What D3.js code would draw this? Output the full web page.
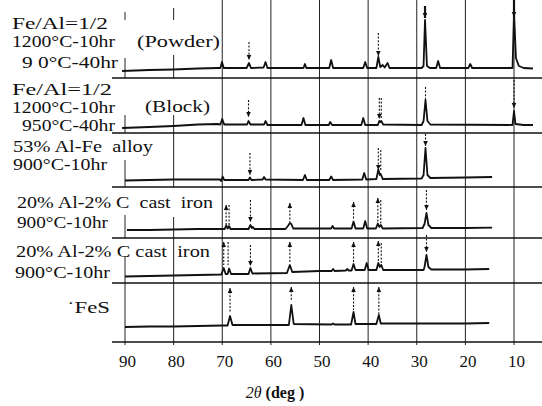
<!DOCTYPE html>
<html>
<head>
<meta charset="utf-8">
<script src="https://cdn.jsdelivr.net/npm/d3@7"></script>
<style>
  html, body { margin: 0; padding: 0; background: #fff; }
  svg { display: block; }
  text { font-family: "Liberation Serif", "Times New Roman", "DejaVu Serif", serif; fill: #111; white-space: pre; }
</style>
</head>
<body>
<svg id="chart" width="542" height="406"></svg>
<script>
// ---- data (2θ in degrees, intensity in arbitrary units above each panel's bottom rule) ----
const degTicks = [90, 80, 70, 60, 50, 40, 30, 20, 10];

const sampleLabels = [
  ["Fe/Al=1/2", "1200°C-10hr", "9 0°C-40hr"],
  ["Fe/Al=1/2", "1200°C-10hr", "950°C-40hr"],
  ["53% Al-Fe  alloy", "900°C-10hr"],
  ["20% Al-2% C  cast  iron", "900°C-10hr"],
  ["20% Al-2% C cast  iron", "900°C-10hr"],
  ["˙FeS"]
];
const formLabels = ["(Powder)", "(Block)"];

const trace1 = [[90.6,7],[85,8],[80,8.5],[75,9.5],[71,10],[70.4,10],[70.05,16],[69.7,10],[65.0,10],[64.5,15],[64.1,10],
  [61.5,10.5],[61.1,16],[60.7,10],[55,10],[53.3,10],[53.0,14],[52.7,10],[48.0,10],[47.6,18],[47.2,10],[41.0,10],[40.6,16],
  [40.2,10],[38.3,10],[37.9,21],[37.5,11],[37.0,13],[36.6,10.5],[36.0,15],[35.6,10],[29,10],[28.6,12],[28.3,58],[27.9,12],
  [27.3,10],[26.0,10],[25.6,17],[25.2,10],[19.4,10],[19.0,14],[18.6,10],[10.3,10],[10.0,66],[9.6,20],[9.0,12],[8.0,10],[6.1,9.5]];
const trace2 = [[90.6,5],[85,6],[80,7],[75,8.5],[71,9],[70.4,8.5],[70.0,14],[69.6,8.5],[64.9,8.5],[64.6,12],[64.2,8.5],
  [61.4,8.5],[61.1,12],[60.7,8],[53.7,8],[53.3,15],[52.9,8],[48.1,8],[47.8,11],[47.4,8],[41.4,8],[41.0,15],[40.6,8],
  [38.0,8],[37.7,12],[37.5,11],[37.3,12],[36.9,8.5],[29.0,8],[28.6,12],[28.2,33],[27.8,12],[27.2,8.5],[10.3,8],[10.0,22],
  [9.7,9],[8,8],[6.1,8]];
const trace3 = [[90,6.5],[85,7],[80,7.5],[75,7.5],[70.5,7.5],[70.2,6],[69.9,10.5],[69.6,7],[64.6,7],[64.3,9.5],[64.0,7],
  [61.7,7.5],[61.4,10],[61.1,7.5],[53.4,7],[53.0,12],[52.6,7],[48.0,7],[47.6,10.5],[47.2,7],[41.2,7.5],[40.8,14],[40.4,7.5],
  [38.3,8],[37.9,17.5],[37.6,12],[37.4,13],[37.0,8],[29.0,8.5],[28.6,12],[28.2,39],[27.8,12],[27.2,9],[20,9.5],[14.5,10]];
const trace4 = [[89.6,8],[85,8],[80,8.5],[75,9],[70,9],[69.5,9],[69.2,12.5],[68.9,9.5],[68.6,12],[68.3,9],[64.6,9],[64.2,13],
  [63.9,10],[63.7,11],[63.4,9],[57,9],[56.5,12],[56.1,15],[55.8,14],[55.4,9.5],[47.6,9.5],[47.3,12],[47.0,9.5],[43.4,9.5],
  [43.0,16.5],[42.6,9.5],[41.0,9.5],[40.6,17],[40.2,9.5],[38.4,9.5],[38.0,14.5],[37.7,11],[37.4,13],[37.0,9.5],[28.8,10],
  [28.4,14],[28.0,25],[27.6,13],[27.0,10],[20,10],[14.5,10.3]];
const trace5 = [[90,6.5],[85,7],[80,7.5],[75,8],[70.2,8.5],[69.7,15],[69.3,9],[68.9,9],[68.6,14.5],[68.2,9],[64.6,9],[64.2,15],
  [63.8,9.5],[56.7,10],[56.1,18],[55.6,11],[50,12],[47.5,12],[47.2,14],[46.9,12],[44.6,12.5],[44.3,14],[44.0,12.5],[43.4,12.5],
  [43.0,19],[42.6,13],[40.7,13],[40.3,20],[39.9,13],[38.3,13],[37.9,20],[37.6,16],[37.3,18],[36.9,13],[28.6,13],[28.4,16],
  [28.0,28],[27.6,16],[27.0,13.5],[20,13.5],[15.1,14]];
const trace6 = [[90,15],[85,15.5],[80,15.5],[75,16],[70,16.5],[68.9,16.5],[68.4,26],[67.9,17],[56.3,17],[55.8,37],[55.3,18],
  [47.5,17.5],[47.2,18.5],[46.9,17.5],[43.5,17.5],[43.0,30],[42.6,18],[38.3,18],[37.8,27],[37.4,18.5],[30,18.5],[20,18.5],[15.1,19]];

// peak markers: [2θ, top, bottom, arrow direction, dashed]
const markers1 = [[64.5,36,18,"down",true],[37.9,45,22,"down",true],[28.3,72,60,"down",false],[10.0,78,61,"down",false]];
const markers2 = [[64.6,33,16,"down",true],[37.7,35,14,"down",true],[37.3,35,14,"none",true],[28.2,46,33,"none",true],[10.0,53,25,"down",true]];
const markers3 = [[64.3,34,12,"down",true],[37.9,39,17,"down",true],[37.4,37,17,"none",true],[28.2,53,41,"down",true]];
const markers4 = [[69.2,33,13,"up",true],[68.6,33,13,"none",true],[64.2,38,16,"down",true],[56.1,35,16,"up",true],
  [43.0,36,18,"up",true],[38.0,40,16,"up",true],[37.4,38,13,"none",true],[28.0,48,28,"down",true]];
const markers5 = [[69.7,41,18,"up",true],[68.8,41,18,"none",true],[64.2,38,17,"down",true],[56.1,41,21,"up",true],
  [43.0,41,21,"up",true],[37.9,42,20,"up",true],[37.3,40,18,"none",true],[28.0,48,31,"down",true]];
const markers6 = [[68.4,54,30,"up",true],[55.8,55,42,"up",true],[43.0,55,32,"up",true],[37.8,55,27,"up",true]];

const traces = [trace1, trace2, trace3, trace4, trace5, trace6];
const markers = [markers1, markers2, markers3, markers4, markers5, markers6];

// ---- layout ----
const panelTops = [0, 78, 133, 187, 238, 283];
const panelBottoms = [78, 133, 187, 238, 283, 342];
const ruleLeft = 112, ruleRight = 542;
const labelLayout = [
  [[12,29,96],[12,47,103],[22,68,96]],
  [[12,95,100],[12,113,103],[22,131,93]],
  [[13,152,140],[13,170,94]],
  [[17,208,196],[17,228,91]],
  [[16,257,194],[15,278,95]],
  [[67,313,43]]
];
const formLayout = [[137,47,83],[145,112,65]];
// partial grid segments for 90° and 80° (hidden behind labels in original)
const partialGrid = [[90,12,20],[90,58,78],[80,8,20],[80,55,78],[90,115,133],[80,115,133],
  [90,160,187],[80,133,187],[90,215,238],[80,217,238],[90,257,283],[80,238,283],[90,283,345],[80,283,345]];

const FONT = "'Liberation Serif', 'Times New Roman', 'DejaVu Serif', serif";
const svg = d3.select("#chart");
const x = d3.scaleLinear().domain([90, 10]).range([125, 514]);

// vertical grid
const gGrid = svg.append("g").attr("stroke", "#222").attr("stroke-width", 1);
gGrid.selectAll("line.full").data(degTicks.filter(d => d <= 70)).join("line")
  .attr("x1", d => x(d)).attr("x2", d => x(d)).attr("y1", 0).attr("y2", 345);
gGrid.selectAll("line.part").data(partialGrid).join("line")
  .attr("x1", d => x(d[0])).attr("x2", d => x(d[0])).attr("y1", d => d[1]).attr("y2", d => d[2]);

// horizontal rules
svg.append("g").attr("stroke", "#111").attr("stroke-width", 1.4)
  .selectAll("line").data(panelBottoms).join("line")
  .attr("x1", ruleLeft).attr("x2", ruleRight).attr("y1", d => d).attr("y2", d => d);

// traces and markers
traces.forEach((tr, i) => {
  const y = d3.scaleLinear().domain([0, panelBottoms[i] - panelTops[i]]).range([panelBottoms[i], panelTops[i]]);
  const line = d3.line().x(d => x(d[0])).y(d => y(d[1]));
  svg.append("path").datum(tr).attr("d", line)
    .attr("fill", "none").attr("stroke", "#111").attr("stroke-width", 1.8)
    .attr("stroke-linejoin", "round");
  const g = svg.append("g");
  markers[i].forEach(m => {
    const mx = x(m[0]), yt = y(m[1]), yb = y(m[2]);
    g.append("line").attr("x1", mx).attr("x2", mx).attr("y1", yt).attr("y2", yb)
      .attr("stroke", "#111").attr("stroke-width", m[4] ? 1.1 : 2.2)
      .attr("stroke-dasharray", m[4] ? "2,1.6" : null);
    if (m[3] === "down") {
      g.append("path").attr("d", `M${mx-2.3},${yb-5}L${mx+2.3},${yb-5}L${mx},${yb}Z`).attr("fill", "#111");
    } else if (m[3] === "up") {
      g.append("path").attr("d", `M${mx-2.3},${yt+5}L${mx+2.3},${yt+5}L${mx},${yt}Z`).attr("fill", "#111");
    }
  });
});

// sample labels
sampleLabels.forEach((lines, i) => {
  lines.forEach((t, j) => {
    const L = labelLayout[i][j];
    svg.append("text").attr("x", L[0]).attr("y", L[1]).style("font-family", FONT).style("font-size", "16px")
      .attr("textLength", L[2]).attr("lengthAdjust", "spacingAndGlyphs").text(t);
  });
});
formLabels.forEach((t, i) => {
  const L = formLayout[i];
  svg.append("text").attr("x", L[0]).attr("y", L[1]).style("font-family", FONT).style("font-size", "16px")
    .attr("textLength", L[2]).attr("lengthAdjust", "spacingAndGlyphs").text(t);
});

// x axis
const axis = d3.axisBottom(x).tickValues(degTicks).tickSize(0).tickPadding(13).tickFormat(d3.format("d"));
const gAxis = svg.append("g").attr("transform", "translate(2,342)").call(axis);
gAxis.select(".domain").remove();
gAxis.selectAll("text").style("font-size", "17px").style("font-family", FONT).attr("fill", "#111");

// axis title
const title = svg.append("text").attr("x", 275).attr("y", 398).attr("text-anchor", "middle")
  .style("font-family", FONT).style("font-size", "16px");
title.append("tspan").attr("font-style", "italic").text("2θ ");
title.append("tspan").attr("font-weight", "bold").text("(deg )");
</script>
</body>
</html>
